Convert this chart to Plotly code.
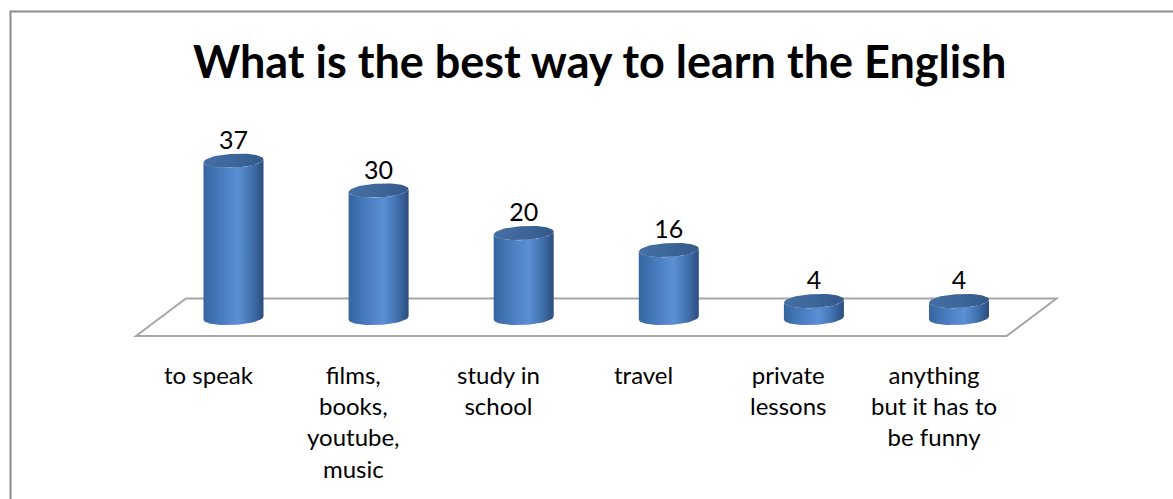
import numpy as np
import plotly.graph_objects as go

# Survey answers and counts
categories = [
    "to speak",
    "films,<br>books,<br>youtube,<br>music",
    "study in<br>school",
    "travel",
    "private<br>lessons",
    "anything<br>but it has to<br>be funny",
]
values = [37, 30, 20, 16, 4, 4]
title_text = "What is the best way to learn the English"

# Figure geometry (pixels) used to set the axis ranges
W, H = 1173, 499
X0_PX, DX_PX = 233.5, 145.1      # first category centre, category spacing
Y0_PX, DY_PX = 318.0, 4.25       # value 0 baseline, pixels per unit

x_range = [(0 - X0_PX) / DX_PX, (W - X0_PX) / DX_PX]
y_range = [(Y0_PX - H) / DY_PX, Y0_PX / DY_PX]

# Cylinder shape in axis units
half_w = 30.0 / DX_PX
half_h = 7.0 / DY_PX
tilt = 1.5 / DY_PX
depth_shift = 0.172              # front edge of the floor sits left of the bar centres

body_scale = [[0.0, "#3565a0"], [0.3, "#4a7dc0"], [0.58, "#5b8fd4"],
              [0.8, "#4272b0"], [1.0, "#2b4d7e"]]
top_scale = [[0.0, "#456fa5"], [0.5, "#3d6699"], [1.0, "#33598a"]]

fig = go.Figure()

t_front = np.linspace(np.pi, 2 * np.pi, 40)
t_full = np.linspace(0, 2 * np.pi, 80)

for i, v in enumerate(values):
    # bottom front arc, left -> right
    bx = i + half_w * np.cos(t_front)
    by = 0 + half_h * np.sin(t_front) + tilt * np.cos(t_front)
    # top front arc, right -> left
    tx = (i + half_w * np.cos(t_front))[::-1]
    ty = (v + half_h * np.sin(t_front) + tilt * np.cos(t_front))[::-1]
    fig.add_trace(go.Scatter(
        x=np.concatenate([bx, tx, bx[:1]]),
        y=np.concatenate([by, ty, by[:1]]),
        mode="lines", line=dict(width=0), fill="toself",
        fillgradient=dict(type="horizontal", colorscale=body_scale),
        hoverinfo="skip", showlegend=False,
    ))
    # top cap
    fig.add_trace(go.Scatter(
        x=i + half_w * np.cos(t_full),
        y=v + half_h * np.sin(t_full) + tilt * np.cos(t_full),
        mode="lines", line=dict(width=0), fill="toself",
        fillgradient=dict(type="horizontal", colorscale=top_scale),
        hoverinfo="skip", showlegend=False,
    ))

# Value labels above each cylinder
fig.add_trace(go.Scatter(
    x=list(range(len(values))), y=[v + 4.2 for v in values],
    mode="text", text=[str(v) for v in values],
    textfont=dict(family="Lato", size=25, color="#000000"),
    hoverinfo="skip", showlegend=False,
))

# Category labels under the floor
for i, c in enumerate(categories):
    fig.add_annotation(
        x=i - depth_shift, y=-9.4, text=c, showarrow=False,
        xanchor="center", yanchor="top", align="center",
        font=dict(family="Lato", size=24, color="#000000"),
    )

# Floor parallelogram
n = len(values)
fl_front = -4.25
fl_back = 4.6
floor_path = (f"M {-0.5 - depth_shift},{fl_front} L {-0.5 + depth_shift},{fl_back} "
              f"L {n - 0.5 + depth_shift},{fl_back} L {n - 0.5 - depth_shift},{fl_front} Z")
fig.add_shape(type="path", path=floor_path, xref="x", yref="y",
              line=dict(color="#a6a6a6", width=2), layer="below")

# Chart border
fig.add_shape(type="rect", xref="paper", yref="paper",
              x0=10.5 / W, x1=1.2, y0=-0.2, y1=1 - 11.5 / H,
              line=dict(color="#8c8c8c", width=2), layer="below")

fig.add_annotation(
    x=599.5 / W, y=1 - 61 / H, xref="paper", yref="paper",
    text=f"<b>{title_text}</b>", showarrow=False,
    xanchor="center", yanchor="middle",
    font=dict(family="Lato", size=45, color="#000000"),
)

fig.update_layout(
    width=W, height=H,
    margin=dict(l=0, r=0, t=0, b=0),
    paper_bgcolor="white", plot_bgcolor="white",
    xaxis=dict(range=x_range, visible=False, fixedrange=True),
    yaxis=dict(range=y_range, visible=False, fixedrange=True),
)

fig.write_html("out.html", config={"displayModeBar": False})
